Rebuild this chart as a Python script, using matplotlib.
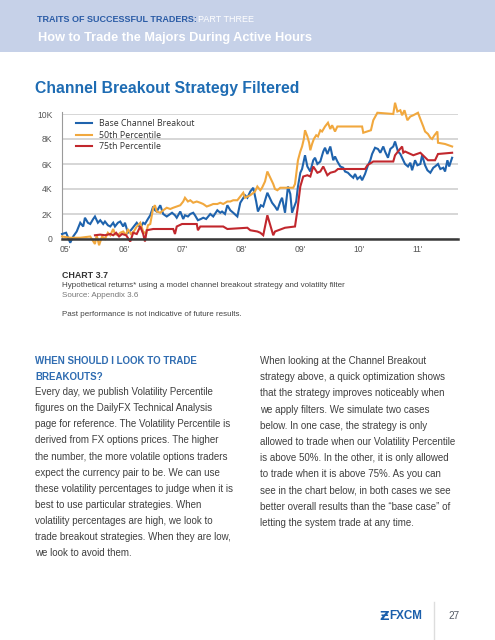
#!/usr/bin/env python3
"""Recreate the FXCM 'Channel Breakout Strategy Filtered' page."""

import matplotlib

matplotlib.use("Agg")

import matplotlib.pyplot as plt
from matplotlib.patches import Rectangle
from matplotlib.lines import Line2D

W, H = 495, 640

# --- chart data (decimal years, equity in thousands) ---
BASE_X = [
    2004.95, 2005.02, 2005.09, 2005.14, 2005.20, 2005.26, 2005.31, 2005.34, 2005.39, 2005.43,
    2005.48, 2005.51, 2005.56, 2005.60, 2005.65, 2005.68, 2005.73, 2005.77, 2005.82, 2005.85,
    2005.90, 2005.94, 2005.99, 2006.02, 2006.07, 2006.12, 2006.17, 2006.22, 2006.28, 2006.33,
    2006.36, 2006.41, 2006.45, 2006.50, 2006.53, 2006.56, 2006.62, 2006.67, 2006.73, 2006.79,
    2006.82, 2006.87, 2006.90, 2006.96, 2007.01, 2007.04, 2007.09, 2007.13, 2007.18, 2007.21,
    2007.26, 2007.31, 2007.35, 2007.40, 2007.47, 2007.52, 2007.59, 2007.64, 2007.67, 2007.72,
    2007.76, 2007.81, 2007.86, 2007.93, 2007.98, 2008.06, 2008.10, 2008.15, 2008.20, 2008.25,
    2008.28, 2008.33, 2008.37, 2008.44, 2008.49, 2008.52, 2008.57, 2008.61, 2008.66, 2008.69,
    2008.74, 2008.79, 2008.83, 2008.86, 2008.89, 2008.93, 2008.96, 2009.00, 2009.03, 2009.08,
    2009.12, 2009.17, 2009.22, 2009.25, 2009.29, 2009.34, 2009.39, 2009.42, 2009.46, 2009.51,
    2009.56, 2009.59, 2009.63, 2009.68, 2009.73, 2009.76, 2009.81, 2009.85, 2009.90, 2009.93,
    2009.97, 2010.02, 2010.05, 2010.10, 2010.15, 2010.19, 2010.22, 2010.27, 2010.32, 2010.36,
    2010.41, 2010.44, 2010.49, 2010.53, 2010.58, 2010.61, 2010.66, 2010.70, 2010.75, 2010.78,
    2010.83, 2010.87, 2010.90, 2010.95, 2010.99, 2011.04, 2011.07, 2011.12, 2011.16, 2011.21,
    2011.26, 2011.29, 2011.34, 2011.38, 2011.43, 2011.46, 2011.50, 2011.53, 2011.58,
]
BASE_Y = [
    0.4, 0.5, -0.3, 0.2, 0.6, 1.3, 1.0, 1.7, 1.3, 1.2,
    1.6, 1.8, 1.3, 1.5, 1.2, 1.4, 1.1, 1.0, 1.3, 1.0,
    1.3, 1.4, 1.0, 1.3, 0.5, 0.7, 1.0, 1.3, 0.9, 1.3,
    1.2, 1.6, 1.9, 2.6, 2.3, 2.2, 2.7, 2.0, 1.8, 2.0,
    2.1, 1.9, 1.7, 2.2, 1.6, 1.9, 1.8, 2.0, 2.1, 1.9,
    1.5, 1.6, 1.7, 1.6, 2.0, 1.8, 2.3, 2.1, 2.2, 2.0,
    2.7, 2.3, 2.1, 1.8, 2.9, 3.5, 3.3, 3.8, 4.1, 3.0,
    2.2, 2.7, 2.6, 3.7, 3.2, 2.9, 2.6, 2.3, 3.0, 3.3,
    2.1, 4.2, 3.6, 2.1, 2.5, 3.0, 4.2, 5.3, 5.6, 6.7,
    5.8, 5.4, 6.3, 6.5, 6.0, 6.2, 7.0, 7.3, 6.8, 7.4,
    6.3, 6.6, 6.2, 5.8, 5.7, 5.4, 5.3, 5.1, 4.9, 5.2,
    4.8, 5.0, 4.7, 5.2, 5.9, 6.3, 6.8, 7.3, 7.2, 6.9,
    7.4, 7.0, 6.5, 7.2, 7.4, 7.8, 7.0, 6.8, 6.3, 6.0,
    5.8, 6.1, 5.5, 6.3, 5.9, 6.0, 6.7, 5.9, 5.5, 5.3,
    5.7, 5.8, 6.0, 5.6, 5.7, 5.4, 6.3, 5.8, 6.5,
]

P50_X = [
    2004.95, 2005.09, 2005.26, 2005.43, 2005.51, 2005.54, 2005.58, 2005.63, 2005.68, 2005.73,
    2005.77, 2005.82, 2005.85, 2005.90, 2005.94, 2005.99, 2006.04, 2006.07, 2006.12, 2006.17,
    2006.22, 2006.28, 2006.33, 2006.38, 2006.41, 2006.45, 2006.50, 2006.53, 2006.56, 2006.62,
    2006.67, 2006.73, 2006.79, 2006.84, 2006.90, 2006.96, 2007.01, 2007.04, 2007.09, 2007.13,
    2007.18, 2007.24, 2007.30, 2007.35, 2007.41, 2007.47, 2007.52, 2007.59, 2007.64, 2007.69,
    2007.76, 2007.81, 2007.86, 2007.93, 2007.98, 2008.03, 2008.06, 2008.15, 2008.23, 2008.27,
    2008.32, 2008.35, 2008.40, 2008.44, 2008.49, 2008.54, 2008.57, 2008.61, 2008.66, 2008.88,
    2008.91, 2008.96, 2009.00, 2009.03, 2009.06, 2009.08, 2009.12, 2009.15, 2009.17, 2009.20,
    2009.23, 2009.27, 2009.30, 2009.34, 2009.37, 2009.42, 2009.47, 2009.51, 2009.54, 2009.59,
    2009.63, 2010.05, 2010.07, 2010.20, 2010.24, 2010.31, 2010.58, 2010.61, 2010.65, 2010.70,
    2010.73, 2010.77, 2010.82, 2010.87, 2010.92, 2011.00, 2011.04, 2011.09, 2011.12, 2011.17,
    2011.21, 2011.24, 2011.28, 2011.33, 2011.34, 2011.46, 2011.58,
]
P50_Y = [
    0.2, 0.1, 0.1, 0.2, -0.4, 0.3, -0.5, 0.2, 0.0, 0.5,
    0.3, 0.8, 0.4, 0.3, 0.5, 0.6, 0.3, 0.8, 0.4, 0.6,
    1.0, 1.3, 0.6, 0.4, 1.1, 1.2, 2.5, 2.7, 2.2, 2.1,
    2.3, 2.5, 2.4, 2.5, 2.6, 2.7, 3.0, 3.3, 3.0, 3.1,
    2.9, 3.0, 2.9, 2.8, 2.6, 2.7, 2.8, 2.8, 2.9, 2.8,
    3.0, 3.0, 3.1, 3.1, 3.4, 3.7, 3.3, 3.5, 3.8, 4.2,
    3.9, 4.1, 4.6, 5.4, 4.9, 4.4, 4.0, 3.9, 4.1, 4.1,
    4.4, 6.3, 7.0, 7.4, 8.0, 8.7, 8.2, 7.7, 7.1, 7.6,
    8.0, 8.3, 8.2, 8.7, 8.6, 9.0, 9.3, 8.8, 9.1, 8.6,
    9.0, 9.0, 8.5, 8.7, 9.5, 10.1, 10.0, 10.9, 10.2, 10.3,
    9.9, 10.3, 9.5, 9.8, 9.9, 10.1, 9.6, 9.0, 8.6, 8.4,
    8.1, 8.0, 8.3, 8.6, 7.7, 7.6, 7.4,
]

P75_X = [
    2005.51, 2005.60, 2005.68, 2005.77, 2005.82, 2005.87, 2005.92, 2005.97, 2006.04, 2006.11,
    2006.16, 2006.22, 2006.28, 2006.33, 2006.36, 2006.39, 2006.50, 2006.84, 2006.87, 2006.90,
    2006.99, 2007.24, 2007.26, 2007.30, 2007.69, 2007.76, 2008.10, 2008.15, 2008.27, 2008.32,
    2008.37, 2008.44, 2008.49, 2008.54, 2008.57, 2008.74, 2008.91, 2008.95, 2009.00, 2009.05,
    2009.12, 2009.17, 2009.22, 2009.29, 2009.34, 2009.39, 2009.46, 2009.51, 2009.59, 2009.64,
    2010.10, 2010.14, 2010.24, 2010.58, 2010.61, 2010.66, 2010.73, 2010.75, 2010.78, 2010.92,
    2011.04, 2011.17, 2011.29, 2011.34, 2011.58,
]
P75_Y = [
    0.3, 0.35, 0.3, 0.4, 0.3, 0.5, 0.2, 0.4, 0.3, -0.2,
    0.5, 0.4, 1.0, 0.4, -0.2, 0.7, 0.8, 0.8, 0.4, 1.0,
    1.2, 1.2, 0.7, 1.0, 1.0, 0.8, 0.9, 0.7, 0.6, 0.5,
    0.3, 1.9, 1.1, 0.3, 0.6, 0.9, 1.0, 2.3, 4.2, 5.0,
    5.1, 5.0, 5.8, 5.3, 5.4, 5.8, 5.1, 5.3, 5.4, 5.6,
    5.6, 5.9, 6.2, 6.2, 6.7, 7.0, 7.4, 6.9, 7.0, 6.7,
    6.9, 6.3, 6.3, 6.8, 6.9,
]

SERIES = [
    ("Base Channel Breakout", BASE_X, BASE_Y, "#1f63ad"),
    ("50th Percentile", P50_X, P50_Y, "#f1a83e"),
    ("75th Percentile", P75_X, P75_Y, "#c1272d"),
]
YTICKS = [0, 2, 4, 6, 8, 10]
YTICK_LABELS = ["0", "2K", "4K", "6K", "8K", "10K"]
XTICKS = [2005, 2006, 2007, 2008, 2009, 2010, 2011]
XTICK_LABELS = ["05'", "06'", "07'", "08'", "09'", "10'", "11'"]

LEFT_COL = [
    "Every day, we publish Volatility Percentile",
    "figures on the DailyFX Technical Analysis",
    "page for reference. The Volatility Percentile is",
    "derived from FX options prices. The higher",
    "the number, the more volatile options traders",
    "expect the currency pair to be. We can use",
    "these volatility percentages to judge when it is",
    "best to use particular strategies. When",
    "volatility percentages are high, we look to",
    "trade breakout strategies. When they are low,",
    "we look to avoid them.",
]
RIGHT_COL = [
    "When looking at the Channel Breakout",
    "strategy above, a quick optimization shows",
    "that the strategy improves noticeably when",
    "we apply filters. We simulate two cases",
    "below. In one case, the strategy is only",
    "allowed to trade when our Volatility Percentile",
    "is above 50%. In the other, it is only allowed",
    "to trade when it is above 75%. As you can",
    "see in the chart below, in both cases we see",
    "better overall results than the \u201cbase case\u201d of",
    "letting the system trade at any time.",
]

ARIAL = ["Liberation Sans", "DejaVu Sans"]
LEGEND_FONT = ["Open Sans", "DejaVu Sans"]


def fx(x):
    return x / W


def fy(y):
    return 1 - y / H


def put(fig, x, y, s, **kw):
    kw.setdefault("va", "center")
    kw.setdefault("ha", "left")
    kw.setdefault("family", ARIAL)
    fig.text(fx(x), fy(y), s, **kw)


def main():
    fig = plt.figure(figsize=(W / 100, H / 100), dpi=100)
    fig.patch.set_facecolor("white")

    # header band
    fig.patches.append(
        Rectangle((0, fy(52)), 1, 52 / H, transform=fig.transFigure,
                  facecolor="#c6d1e8", edgecolor="none", zorder=0)
    )
    put(fig, 37, 20, "TRAITS OF SUCCESSFUL TRADERS:", fontsize=6.5, weight="bold",
        color="#2b5ca6")
    put(fig, 198, 20, "PART THREE", fontsize=6.5, color="white")
    put(fig, 38, 37.5, "How to Trade the Majors During Active Hours", fontsize=9.2,
        weight="bold", color="white")

    put(fig, 35, 88, "Channel Breakout Strategy Filtered", fontsize=11.3, weight="bold",
        color="#1e6cb3")

    # chart
    ax = fig.add_axes([fx(62), fy(239), (458 - 62) / W, (239 - 114) / H])
    ax.set_xlim(2004.95, 2011.68)
    ax.set_ylim(0, 10)
    for label, xs, ys, color in SERIES:
        ax.plot(xs, ys, color=color, lw=1.5, label=label, clip_on=False,
                solid_joinstyle="miter", zorder=3)
    ax.set_yticks(YTICKS)
    ax.set_yticklabels(YTICK_LABELS)
    ax.set_xticks(XTICKS)
    ax.set_xticklabels(XTICK_LABELS)
    ax.tick_params(length=0, labelsize=6.2, colors="#555555", pad=4)
    ax.tick_params(axis="y", pad=7)
    for lab in ax.get_xticklabels() + ax.get_yticklabels():
        lab.set_family(ARIAL)
    ax.grid(axis="y", color="#cccccc", lw=1.1)
    ax.set_axisbelow(True)
    for side in ("top", "right"):
        ax.spines[side].set_visible(False)
    ax.spines["left"].set_color("#9a9a9a")
    ax.spines["left"].set_linewidth(0.8)
    ax.spines["left"].set_bounds(0, 10.15)
    ax.spines["bottom"].set_color("#3a3a3a")
    ax.spines["bottom"].set_linewidth(1.8)
    ax.spines["bottom"].set_zorder(4)
    ax.patch.set_alpha(0)

    handles = [Line2D([], [], color=c, lw=1.5) for _, _, _, c in SERIES]
    ax.legend(handles, [s[0] for s in SERIES], loc="upper left",
              bbox_to_anchor=(0.036, 0.96), frameon=False, borderpad=0,
              borderaxespad=0, handlelength=1.75, handletextpad=0.85,
              labelspacing=0.3, prop={"family": LEGEND_FONT, "size": 6.3},
              labelcolor="#333333")

    # caption
    put(fig, 62, 275.5, "CHART 3.7", fontsize=6.4, weight="bold", color="#333333")
    put(fig, 62, 285.5,
        "Hypothetical returns* using a model channel breakout strategy and volatilty filter",
        fontsize=5.75, color="#444444")
    put(fig, 62, 295.5, "Source: Appendix 3.6", fontsize=5.75, color="#777777")
    put(fig, 62, 315, "Past performance is not indicative of future results.",
        fontsize=5.75, color="#444444")

    # body text
    put(fig, 35, 361, "WHEN SHOULD I LOOK TO TRADE", fontsize=7.0, weight="bold",
        color="#2f6cb1")
    put(fig, 35, 376.5, "BREAKOUTS?", fontsize=7.0, weight="bold", color="#2f6cb1")
    for i, line in enumerate(LEFT_COL):
        put(fig, 35, 392 + i * 16.15, line, fontsize=7.0, color="#404040")
    for i, line in enumerate(RIGHT_COL):
        put(fig, 260.5, 361 + i * 16.2, line, fontsize=7.0, color="#404040")

    # footer
    put(fig, 379, 616, "\u01b5", fontsize=9.5, weight="bold", color="#1b5fab",
        family=["DejaVu Sans"])
    put(fig, 389, 616, "FXCM", fontsize=8.4, weight="bold", color="#1b5fab")
    fig.add_artist(Line2D([fx(434), fx(434)], [fy(602), fy(640)], color="#dddddd", lw=1.0))
    put(fig, 448, 616, "27", fontsize=7.2, color="#555b66")

    fig.savefig("out.png", dpi=100)


if __name__ == "__main__":
    main()
